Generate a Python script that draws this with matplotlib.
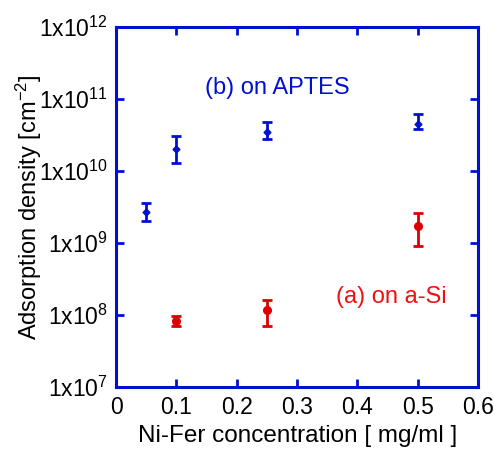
import matplotlib.pyplot as plt
from matplotlib.ticker import FixedLocator, FuncFormatter, NullLocator
import numpy as np

# (b) na APTES
x_aptes = [0.05, 0.1, 0.25, 0.5]
y_aptes = [2.67e9, 2.0e10, 3.44e10, 4.45e10]
y_aptes_lo = [2.0e9, 1.28e10, 2.75e10, 3.87e10]
y_aptes_hi = [3.6e9, 3.06e10, 4.8e10, 6.2e10]

# (a) na a-Si
x_asi = [0.1, 0.25, 0.5]
y_asi = [8.3e7, 1.17e8, 1.74e9]
y_asi_lo = [7.1e7, 7.1e7, 9.1e8]
y_asi_hi = [9.6e7, 1.63e8, 2.61e9]

x_ticks = [0, 0.1, 0.2, 0.3, 0.4, 0.5, 0.6]
y_ticks = [1e7, 1e8, 1e9, 1e10, 1e11, 1e12]

BLUE = "#0010d0"
RED = "#dd0000"


def main():
    plt.rcParams['font.family'] = ['Liberation Sans', 'DejaVu Sans']
    plt.rcParams['mathtext.default'] = 'regular'

    fig = plt.figure(figsize=(4.94, 4.55), dpi=100)
    ax = fig.add_axes([0.235, 0.149, 0.733, 0.792])

    y = np.array(y_aptes)
    ax.errorbar(x_aptes, y, yerr=[y - np.array(y_aptes_lo), np.array(y_aptes_hi) - y],
                fmt='D', ms=3.5, color=BLUE, ecolor=BLUE, elinewidth=2,
                capsize=3.5, capthick=2)
    y = np.array(y_asi)
    ax.errorbar(x_asi, y, yerr=[y - np.array(y_asi_lo), np.array(y_asi_hi) - y],
                fmt='o', ms=5.5, color=RED, ecolor=RED, elinewidth=2,
                capsize=3.5, capthick=2)

    ax.set_yscale('log')
    ax.set_xlim(0, 0.6)
    ax.set_ylim(1e7, 1e12)
    ax.xaxis.set_major_locator(FixedLocator(x_ticks))
    ax.xaxis.set_major_formatter(FuncFormatter(lambda v, p: "0" if v == 0 else f"{v:g}"))
    ax.yaxis.set_major_locator(FixedLocator(y_ticks))
    ax.yaxis.set_minor_locator(NullLocator())
    ax.yaxis.set_major_formatter(FuncFormatter(lambda v, p: f"1x10$^{{{int(round(np.log10(v)))}}}$"))

    for s in ax.spines.values():
        s.set_color(BLUE)
        s.set_linewidth(2.2)
    ax.tick_params(direction='in', length=6, width=2, color=BLUE, labelsize=16.5,
                   top=True, right=True, pad=6)

    ax.set_xlabel("Ni-Fer concentration [ mg/ml ]", fontsize=17.5, labelpad=5)
    ax.set_ylabel("Adsorption density [cm$^{-2}$]", fontsize=17, labelpad=-4)

    ax.text(0.148, 10**11.15, "(b) on APTES", color=BLUE, fontsize=17, va='center')
    ax.text(0.365, 10**8.25, "(a) on a-Si", color="#ee1111", fontsize=17, va='center')

    fig.savefig("out.png", dpi=100)


if __name__ == "__main__":
    main()
